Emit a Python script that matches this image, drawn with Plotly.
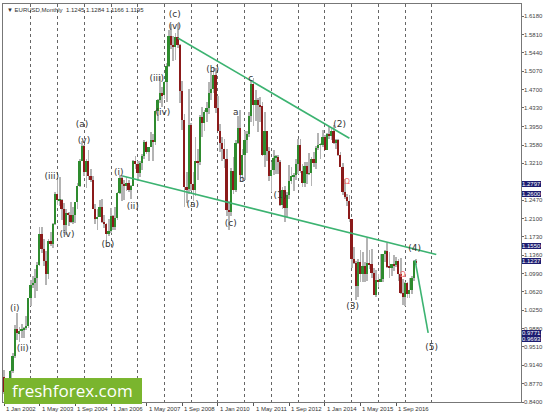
import plotly.graph_objects as go
import pandas as pd

# ---------------- data (EURUSD monthly, Jan 2002 .. Jun 2017) ----------------
first_month = "2002-01-01"
opens = [
 0.8900,0.8603,0.8688,0.8722,0.9017,0.9332,0.9869,0.9790,0.9823,0.9867,0.9887,0.9929,
 1.0492,1.0765,1.0791,1.0907,1.1162,1.1789,1.1490,1.1248,1.0981,1.1653,1.1586,1.1981,
 1.2597,1.2464,1.2480,1.2297,1.1975,1.2210,1.2165,1.2025,1.2171,1.2433,1.2757,1.3265,
 1.3554,1.3036,1.3255,1.2961,1.2867,1.2296,1.2099,1.2125,1.2338,1.2026,1.1997,1.1793,
 1.1843,1.2158,1.1923,1.2113,1.2624,1.2927,1.2792,1.2765,1.2810,1.2669,1.2757,1.3250,
 1.3199,1.3022,1.3229,1.3355,1.3652,1.3451,1.3540,1.3680,1.3637,1.4267,1.4489,1.4628,
 1.4590,1.4858,1.5185,1.5785,1.5609,1.5551,1.5751,1.5602,1.4675,1.4089,1.2730,1.2690,
 1.3977,1.2800,1.2668,1.3255,1.3230,1.4151,1.4032,1.4253,1.4332,1.4637,1.4716,1.5004,
 1.4321,1.3866,1.3631,1.3510,1.3293,1.2272,1.2236,1.3049,1.2678,1.3633,1.3931,1.2982,
 1.3380,1.3692,1.3808,1.4164,1.4807,1.4397,1.4500,1.4393,1.4366,1.3386,1.3867,1.3452,
 1.2961,1.3083,1.3323,1.3343,1.3235,1.2366,1.2667,1.2303,1.2578,1.2859,1.2957,1.2985,
 1.3192,1.3578,1.3053,1.2818,1.3167,1.3005,1.3012,1.3302,1.3222,1.3525,1.3585,1.3589,
 1.3743,1.3487,1.3802,1.3772,1.3870,1.3633,1.3692,1.3387,1.3132,1.2631,1.2525,1.2453,
 1.2098,1.1289,1.1196,1.0731,1.1224,1.0987,1.1146,1.0985,1.1211,1.1177,1.1004,1.0565,
 1.0862,1.0829,1.0871,1.1380,1.1454,1.1132,1.1106,1.1174,1.1156,1.1241,1.0980,1.0589,
 1.0517,1.0798,1.0575,1.0652,1.0895,1.1245]
highs = [
 0.9040,0.8780,0.8838,0.9050,0.9380,0.9955,1.0190,0.9910,0.9965,0.9915,1.0140,1.0500,
 1.0860,1.0935,1.1080,1.1225,1.1935,1.1930,1.1680,1.1440,1.1690,1.1825,1.2005,1.2645,
 1.2900,1.2930,1.2500,1.2420,1.2290,1.2235,1.2430,1.2325,1.2440,1.2810,1.3305,1.3667,
 1.3580,1.3300,1.3480,1.3100,1.2955,1.2390,1.2285,1.2480,1.2500,1.2175,1.2005,1.2090,
 1.2320,1.2170,1.2325,1.2640,1.2980,1.2975,1.2880,1.2940,1.2880,1.2775,1.3280,1.3365,
 1.3270,1.3250,1.3405,1.3680,1.3660,1.3545,1.3850,1.3810,1.4280,1.4510,1.4965,1.4750,
 1.4880,1.5240,1.5900,1.6020,1.5775,1.5840,1.6038,1.5615,1.4865,1.4200,1.3030,1.4720,
 1.4030,1.3045,1.3740,1.3510,1.4180,1.4340,1.4280,1.4445,1.4845,1.5065,1.5145,1.5145,
 1.4580,1.4000,1.3740,1.3695,1.3510,1.2455,1.3110,1.3335,1.3685,1.4160,1.4280,1.3500,
 1.3860,1.3860,1.4250,1.4880,1.4940,1.4700,1.4530,1.4550,1.4450,1.4250,1.3870,1.3550,
 1.3235,1.3485,1.3385,1.3380,1.3280,1.2745,1.2750,1.2640,1.3170,1.3140,1.3020,1.3310,
 1.3710,1.3710,1.3200,1.3245,1.3245,1.3415,1.3345,1.3450,1.3570,1.3830,1.3620,1.3895,
 1.3775,1.3825,1.3965,1.3905,1.3995,1.3700,1.3700,1.3445,1.3220,1.2890,1.2600,1.2570,
 1.2100,1.1535,1.1245,1.1290,1.1470,1.1435,1.1215,1.1715,1.1460,1.1495,1.1095,1.1060,
 1.0990,1.1375,1.1390,1.1465,1.1615,1.1425,1.1190,1.1365,1.1330,1.1275,1.1300,1.0875,
 1.0830,1.0830,1.0905,1.0950,1.1265,1.1284]
lows = [
 0.8565,0.8564,0.8630,0.8700,0.8982,0.9290,0.9650,0.9615,0.9685,0.9700,0.9860,0.9900,
 1.0335,1.0690,1.0500,1.0630,1.1140,1.1410,1.1140,1.0765,1.0880,1.1545,1.1500,1.1965,
 1.2375,1.2355,1.2075,1.1800,1.1760,1.1945,1.2000,1.1990,1.2010,1.2290,1.2730,1.3250,
 1.2955,1.2725,1.2880,1.2835,1.2290,1.1990,1.1870,1.2125,1.2010,1.1905,1.1640,1.1750,
 1.1800,1.1860,1.1865,1.2065,1.2600,1.2455,1.2470,1.2665,1.2635,1.2485,1.2750,1.3100,
 1.2865,1.2935,1.3075,1.3310,1.3410,1.3270,1.3535,1.3260,1.3580,1.4070,1.4420,1.4340,
 1.4505,1.4440,1.5150,1.5515,1.5285,1.5300,1.5545,1.4430,1.3880,1.2330,1.2420,1.2590,
 1.2660,1.2455,1.2545,1.2885,1.3170,1.3745,1.3860,1.4045,1.4200,1.4485,1.4625,1.4220,
 1.3860,1.3445,1.3270,1.3115,1.2145,1.1875,1.2150,1.2590,1.2640,1.3600,1.2970,1.2860,
 1.2870,1.3430,1.3750,1.4040,1.3970,1.4075,1.3840,1.4040,1.3360,1.3145,1.3260,1.2860,
 1.2625,1.2975,1.3000,1.3000,1.2360,1.2285,1.2040,1.2130,1.2500,1.2800,1.2660,1.2875,
 1.3000,1.3020,1.2745,1.2745,1.2795,1.2970,1.2755,1.3130,1.3105,1.3480,1.3295,1.3545,
 1.3475,1.3480,1.3705,1.3675,1.3600,1.3500,1.3365,1.3130,1.2570,1.2500,1.2360,1.2035,
 1.1100,1.1175,1.0460,1.0520,1.0820,1.0820,1.0810,1.0850,1.1085,1.0895,1.0560,1.0520,
 1.0710,1.0810,1.0825,1.1215,1.1100,1.0910,1.0950,1.1045,1.1120,1.0850,1.0570,1.0350,
 1.0340,1.0495,1.0490,1.0570,1.0840,1.1166]
closes = [
 0.8603,0.8688,0.8722,0.9017,0.9332,0.9869,0.9790,0.9823,0.9867,0.9887,0.9929,1.0492,
 1.0765,1.0791,1.0907,1.1162,1.1789,1.1490,1.1248,1.0981,1.1653,1.1586,1.1981,1.2597,
 1.2464,1.2480,1.2297,1.1975,1.2210,1.2165,1.2025,1.2171,1.2433,1.2757,1.3265,1.3554,
 1.3036,1.3255,1.2961,1.2867,1.2296,1.2099,1.2125,1.2338,1.2026,1.1997,1.1793,1.1843,
 1.2158,1.1923,1.2113,1.2624,1.2927,1.2792,1.2765,1.2810,1.2669,1.2757,1.3250,1.3199,
 1.3022,1.3229,1.3355,1.3652,1.3451,1.3540,1.3680,1.3637,1.4267,1.4489,1.4628,1.4590,
 1.4858,1.5185,1.5785,1.5609,1.5551,1.5751,1.5602,1.4675,1.4089,1.2730,1.2690,1.3977,
 1.2800,1.2668,1.3255,1.3230,1.4151,1.4032,1.4253,1.4332,1.4637,1.4716,1.5004,1.4321,
 1.3866,1.3631,1.3510,1.3293,1.2272,1.2236,1.3049,1.2678,1.3633,1.3931,1.2982,1.3380,
 1.3692,1.3808,1.4164,1.4807,1.4397,1.4500,1.4393,1.4366,1.3386,1.3867,1.3452,1.2961,
 1.3083,1.3323,1.3343,1.3235,1.2366,1.2667,1.2303,1.2578,1.2859,1.2957,1.2985,1.3192,
 1.3578,1.3053,1.2818,1.3167,1.3005,1.3012,1.3302,1.3222,1.3525,1.3585,1.3589,1.3743,
 1.3487,1.3802,1.3772,1.3870,1.3633,1.3692,1.3387,1.3132,1.2631,1.2525,1.2453,1.2098,
 1.1289,1.1196,1.0731,1.1224,1.0987,1.1146,1.0985,1.1211,1.1177,1.1004,1.0565,1.0862,
 1.0829,1.0871,1.1380,1.1454,1.1132,1.1106,1.1174,1.1156,1.1241,1.0980,1.0589,1.0517,
 1.0798,1.0575,1.0652,1.0895,1.1243,1.1195]

y_tick_vals = [1.6180,1.5810,1.5440,1.5070,1.4700,1.4330,1.3950,1.3580,1.3210,
               1.2470,1.2100,1.1730,1.1360,1.0990,1.0620,1.0250,0.9880,
               0.9510,0.9140,0.8770,0.8400]
x_tick_dates = ["2002-01-01","2003-05-01","2004-09-01","2006-01-01","2007-05-01","2008-09-01",
                "2010-01-01","2011-05-01","2012-09-01","2014-01-01","2015-05-01","2016-09-01"]
x_tick_text = ["1 Jan 2002","1 May 2003","1 Sep 2004","1 Jan 2006","1 May 2007","1 Sep 2008",
               "1 Jan 2010","1 May 2011","1 Sep 2012","1 Jan 2014","1 May 2015","1 Sep 2016"]
grid_years = list(range(2003, 2019))

level_prices = [1.2797, 1.2600, 1.1550, 0.9771, 0.9693]
level_label_nudge = [0, 0, 0, 1, -1]
current_price = 1.1237

# trend lines: (date, price) endpoints
upper_line_dates = ["2008-07-01", "2014-12-01"]
upper_line_prices = [1.574, 1.372]
lower_line_dates = ["2006-06-08", "2018-03-01"]
lower_line_prices = [1.2958, 1.1376]
proj_line_dates = ["2017-05-15", "2017-11-10"]
proj_line_prices = [1.1261, 0.9795]

wave_text = ["(i)","(ii)","(iii)","(iv)","(a)","(v)","(b)","(i)","(ii)","(iii)","(iv)",
             "(c)","(v)","(a)","(b)","a","b","c","(c)","(1)","(2)","(3)","(4)","(5)"]
wave_dates = ["2002-05-28","2002-09-15","2003-10-15","2004-05-10","2004-12-01","2004-12-28",
              "2005-11-18","2006-04-18","2006-10-25","2007-09-18","2007-12-10",
              "2008-05-21","2008-05-21","2009-01-23","2009-10-21","2010-09-01","2010-11-22",
              "2011-03-24","2010-06-24","2012-04-24","2014-07-20","2015-01-15","2017-05-10",
              "2017-12-28"]
wave_prices = [1.0277,0.9470,1.2938,1.1769,1.3987,1.3664,1.1567,1.3019,1.2333,1.4914,1.4228,
               1.6204,1.5962,1.2374,1.5095,1.4228,1.2878,1.4914,1.1991,1.2555,1.3987,1.0317,
               1.1487,0.9491]

red_mark_dates = ["2014-11-01", "2016-12-01"]
red_mark_prices = [1.2837, 1.0970]

title_text = "\u25bc EURUSD,Monthly  1.1245 1.1284 1.1166 1.1195"

# ---------------- figure ----------------
dates = pd.date_range(first_month, periods=len(opens), freq="MS")
DAY = 86400000
bull = [c >= o for o, c in zip(opens, closes)]
body_base = [min(o, c) for o, c in zip(opens, closes)]
body_h = [max(abs(c - o), 0.0012) for o, c in zip(opens, closes)]
wick_h = [h - l for h, l in zip(highs, lows)]

fig = go.Figure()
fig.add_trace(go.Bar(x=dates, y=wick_h, base=lows, width=11 * DAY,
                     marker=dict(color="#b4b4b4", line=dict(width=0)), hoverinfo="skip"))
fig.add_trace(go.Bar(x=dates, y=body_h, base=body_base, width=24 * DAY,
                     marker=dict(color=["#2e8b2e" if b else "#8b1a1a" for b in bull],
                                 line=dict(width=0)), hoverinfo="skip"))

for p in level_prices:
    fig.add_hline(y=p, line=dict(color="#7474c4", width=1.3))
fig.add_hline(y=current_price, line=dict(color="#505068", width=1))

for d, p in ((upper_line_dates, upper_line_prices), (lower_line_dates, lower_line_prices),
             (proj_line_dates, proj_line_prices)):
    fig.add_trace(go.Scatter(x=d, y=p, mode="lines", line=dict(color="#3cb371", width=1.6),
                             hoverinfo="skip"))

fig.add_trace(go.Scatter(x=wave_dates, y=wave_prices, mode="text", text=wave_text,
                         textfont=dict(family="DejaVu Sans", size=9, color="#333333"),
                         hoverinfo="skip"))
fig.add_trace(go.Scatter(x=red_mark_dates, y=red_mark_prices, mode="text", text=["\u2126", "\u2126"],
                         textfont=dict(family="DejaVu Sans", size=8, color="#f07070"),
                         hoverinfo="skip"))

small = dict(family="Liberation Sans", size=6, color="#333333")
annotations = []
annotations.append(dict(text=title_text, xref="paper", yref="paper", x=0.004, y=0.985,
                        xanchor="left", yanchor="middle", showarrow=False, font=small))
for d, t in zip(x_tick_dates, x_tick_text):
    annotations.append(dict(text=t, x=d, xref="x", y=0, yref="paper", xanchor="left",
                            yanchor="top", yshift=-2, xshift=0, showarrow=False, font=small))
for v in y_tick_vals:
    annotations.append(dict(text="%.4f" % v, x=1, xref="paper", y=v, yref="y",
                            xanchor="left", yanchor="middle", xshift=2, showarrow=False,
                            borderpad=0, font=dict(family="Liberation Sans", size=6, color="#444444")))
for p, n in zip(level_prices + [current_price], level_label_nudge + [0]):
    annotations.append(dict(text="%.4f" % p, x=1, xref="paper", y=p, yref="y",
                            xanchor="left", yanchor="middle", xshift=1, yshift=n, showarrow=False,
                            bgcolor="#1c1c70", borderpad=0, borderwidth=0,
                            font=dict(family="Liberation Sans", size=6, color="white")))
annotations.append(dict(text="freshforex.com", xref="paper", yref="paper", x=0.134, y=0.028,
                        xanchor="center", yanchor="middle", showarrow=False,
                        font=dict(family="Open Sans", size=17, color="white")))

shapes = [dict(type="rect", xref="paper", yref="paper", x0=0.002, x1=0.268, y0=-0.004, y1=0.059,
               fillcolor="#7ab52e", line=dict(width=0), layer="above")]

fig.update_layout(
    width=546, height=419, margin=dict(l=3, r=25, t=4, b=17),
    paper_bgcolor="white", plot_bgcolor="white", showlegend=False, barmode="overlay",
    bargap=0, annotations=annotations, shapes=shapes,
    xaxis=dict(type="date", range=["2001-12-18", "2021-05-01"], showgrid=False,
               tickvals=x_tick_dates, showticklabels=False, ticks="outside", ticklen=3,
               tickcolor="#555555", showline=True, linecolor="#777777", mirror=True,
               zeroline=False,
               minor=dict(tickvals=["%d-01-01" % y for y in grid_years], showgrid=True,
                          gridcolor="#666666", griddash="dot", gridwidth=1, ticks="")),
    yaxis=dict(side="right", range=[0.840, 1.6426], tickvals=y_tick_vals,
               showticklabels=False, showgrid=False, zeroline=False,
               ticks="outside", ticklen=2, tickcolor="#666666",
               showline=True, linecolor="#777777", mirror=True),
)

fig.write_html("out.html", config={"displayModeBar": False},
               post_script="document.body.style.margin='0';document.body.style.padding='0';")
